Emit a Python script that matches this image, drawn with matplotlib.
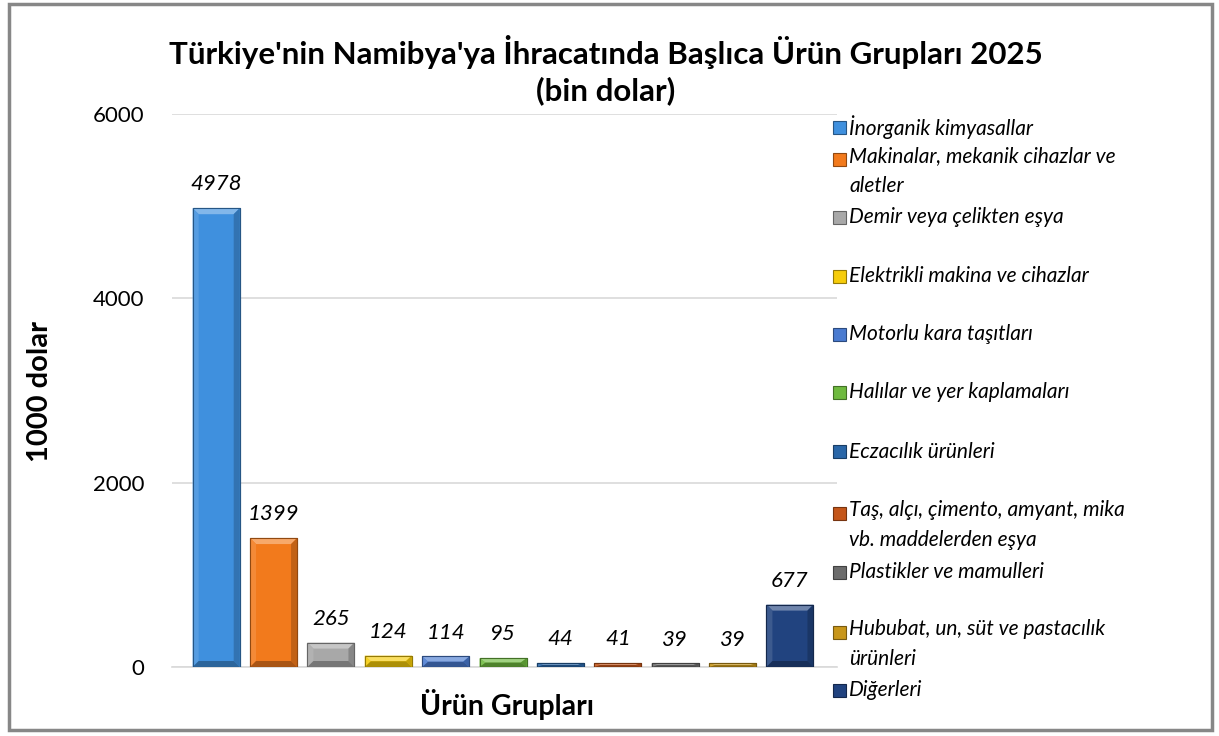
import matplotlib
matplotlib.use("Agg")
import matplotlib.pyplot as plt
from matplotlib.patches import Polygon, Rectangle
import matplotlib.colors as mcolors
import numpy as np

categories = [
    "İnorganik kimyasallar",
    "Makinalar, mekanik cihazlar ve\naletler",
    "Demir veya çelikten eşya",
    "Elektrikli makina ve cihazlar",
    "Motorlu kara taşıtları",
    "Halılar ve yer kaplamaları",
    "Eczacılık ürünleri",
    "Taş, alçı, çimento, amyant, mika\nvb. maddelerden eşya",
    "Plastikler ve mamulleri",
    "Hububat, un, süt ve pastacılık\nürünleri",
    "Diğerleri",
]
values = [4978, 1399, 265, 124, 114, 95, 44, 41, 39, 39, 677]
colors = ["#3f90de", "#f27a1c", "#a8a8a8", "#f6cc0a", "#4a7bd0", "#6fba3f",
          "#2a67a8", "#c4561a", "#6c6c6c", "#c8961a", "#21437f"]
yticks = [0, 2000, 4000, 6000]
title = "Türkiye'nin Namibya'ya İhracatında Başlıca Ürün Grupları 2025\n(bin dolar)"
ylabel = "1000 dolar"
xlabel = "Ürün Grupları"

FONT = "Lato"
plt.rcParams["font.family"] = [FONT, "DejaVu Sans"]

W, H = 1219, 736
fig = plt.figure(figsize=(W / 100, H / 100), dpi=100)
ax = fig.add_axes([172 / W, 1 - 667 / H, 665 / W, 553 / H])

def shade(c, f):
    r, g, b = mcolors.to_rgb(c)
    if f >= 0:
        return (r + (1 - r) * f, g + (1 - g) * f, b + (1 - b) * f)
    return (r * (1 + f), g * (1 + f), b * (1 + f))

x = np.arange(len(values))
bw = 0.82
ax.set_xlim(-0.77, len(values) - 1 + 0.82)
ax.set_ylim(0, 6000)
bars = ax.bar(x, values, width=bw, color=colors, edgecolor=[shade(c, -0.35) for c in colors],
              linewidth=0.8, zorder=3)

# bevel effect
px_x = (ax.get_xlim()[1] - ax.get_xlim()[0]) / 665
px_y = 6000 / 553
for rect, c in zip(bars, colors):
    x0 = rect.get_x(); x1 = x0 + rect.get_width(); h = rect.get_height()
    bx = 6 * px_x
    by = min(6 * px_y, h / 2)
    bx = min(bx, rect.get_width() / 2)
    top = Polygon([(x0, h), (x1, h), (x1 - bx, h - by), (x0 + bx, h - by)],
                  closed=True, facecolor=shade(c, 0.35), edgecolor="none", zorder=4)
    left = Polygon([(x0, 0), (x0, h), (x0 + bx, h - by), (x0 + bx, by)],
                   closed=True, facecolor=shade(c, 0.12), edgecolor="none", zorder=4)
    right = Polygon([(x1, 0), (x1, h), (x1 - bx, h - by), (x1 - bx, by)],
                    closed=True, facecolor=shade(c, -0.2), edgecolor="none", zorder=4)
    bot = Polygon([(x0, 0), (x1, 0), (x1 - bx, by), (x0 + bx, by)],
                  closed=True, facecolor=shade(c, -0.3), edgecolor="none", zorder=4)
    for p in (top, left, right, bot):
        ax.add_patch(p)
    ax.add_patch(Rectangle((x0, 0), rect.get_width(), h, facecolor="none",
                           edgecolor=shade(c, -0.4), linewidth=0.8, zorder=5))
    ax.annotate(f"{int(h)}", (rect.get_x() + rect.get_width() / 2, h),
                xytext=(0, 10), textcoords="offset points", ha="center", va="bottom",
                fontsize=16, fontstyle="italic", color="black", zorder=6)

ax.set_yticks(yticks)
ax.set_yticklabels([str(t) for t in yticks], fontsize=16)
ax.set_xticks([])
ax.tick_params(axis="y", length=0, pad=20)
ax.grid(axis="y", color="#d9d9d9", linewidth=1.2, zorder=0)
for s in ["top", "right", "left"]:
    ax.spines[s].set_visible(False)
ax.spines["bottom"].set_color("#d9d9d9")
ax.spines["bottom"].set_linewidth(1.2)

fig.text(606 / W, 1 - 70 / H, title, ha="center", va="center", fontsize=22.5,
         fontweight="bold", linespacing=1.3)
fig.text(40 / W, 1 - 392 / H, ylabel, ha="center", va="center", rotation=90,
         fontsize=21, fontweight="bold")
fig.text(507 / W, 1 - 705 / H, xlabel, ha="center", va="center", fontsize=20.5,
         fontweight="bold")

# legend
leg_y = [127, 159, 217, 276, 334, 392, 452, 513, 572, 632, 690]
for cat, c, yy in zip(categories, colors, leg_y):
    fy = 1 - yy / H
    fig.patches.append(Rectangle((833 / W, fy - 6.5 / H), 13 / W, 13 / H,
                                 transform=fig.transFigure, facecolor=c,
                                 edgecolor=shade(c, -0.4), linewidth=0.8))
    if "\n" in cat:
        fig.text(849 / W, fy + 13 / H, cat, ha="left", va="top",
                 fontsize=15, fontstyle="italic", linespacing=1.65)
    else:
        fig.text(849 / W, fy, cat, ha="left", va="center",
                 fontsize=15, fontstyle="italic")

fig.patches.append(Rectangle((9 / W, 1 - 730 / H), 1203 / W, 726 / H,
                             transform=fig.transFigure, facecolor="none",
                             edgecolor="#878787", linewidth=2.5))

fig.savefig("out.png", dpi=100, facecolor="white")
